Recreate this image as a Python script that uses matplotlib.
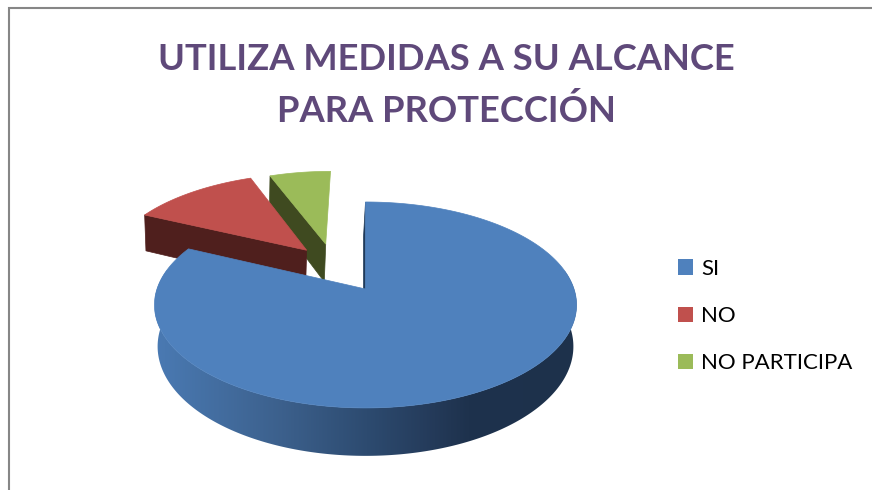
import numpy as np
import matplotlib
matplotlib.use("Agg")
import matplotlib.pyplot as plt
from matplotlib.colors import LinearSegmentedColormap
from matplotlib.patches import Patch, Polygon

plt.rcParams['font.family'] = ['Lato', 'DejaVu Sans']

# data
labels = ['SI', 'NO', 'NO PARTICIPA']
values = [82, 12, 6]
title = 'UTILIZA MEDIDAS A SU ALCANCE\nPARA PROTECCIÓN'

top_colors = ['#4F81BD', '#C0504D', '#9BBB59']
wall_colors = ['#1F3A5A', '#4F1F1D', '#3F4A20']
# offset of each slice on the pie plane, and its radius
offsets = [(0, 0), (-0.30, 0.41), (-0.205, 0.48)]
radii = [1.0, 0.99, 0.95]

# pseudo 3d camera, in pixels
cx, cy = 365.5, 289
rx, ry = 208.5, 100.5
persp = 0.155
depth = 40.5

blue_wall = LinearSegmentedColormap.from_list('blue_wall', [
    (0, '#4A7AB3'), (0.3, '#3C608C'), (0.5, '#2D4B70'),
    (0.66, '#243A59'), (0.74, '#1E324D'), (1, '#1D314B')])


def project(u, v, lower=False):
    w = 1 + persp * v
    x = cx + rx * u / w
    y = cy - ry * v / w
    if lower:
        x = cx + rx * u / w * 0.985
        y = y + depth / w
    return x, y


def draw_slice(ax, start, sweep, off, r, top, wall, zorder, gradient=None):
    # angles run clockwise from the top of the pie
    ang = np.radians(np.linspace(start, start + sweep, 400))
    u = off[0] + r * np.sin(ang)
    v = off[1] + r * np.cos(ang)
    x1, y1 = project(u, v)
    x2, y2 = project(u, v, lower=True)

    # outer wall, only the part turned to the viewer
    front = np.cos(ang) < 0.2
    if front.any():
        pts = list(zip(x1[front], y1[front])) + list(zip(x2[front][::-1], y2[front][::-1]))
        shape = Polygon(pts, facecolor='none', edgecolor='none', zorder=zorder)
        ax.add_patch(shape)
        if gradient is not None:
            ramp = np.linspace(0, 1, 512).reshape(1, -1)
            img = ax.imshow(ramp, cmap=gradient, extent=[155, 578, 470, 250], aspect='auto',
                            zorder=zorder, interpolation='bilinear')
            img.set_clip_path(shape)

    # cut face at the start of the slice, leans a bit to the left at the bottom
    vx1, vy1 = project(off[0], off[1])
    vx2, vy2 = project(off[0], off[1], lower=True)
    ax.add_patch(Polygon([(vx1, vy1), (x1[0], y1[0]), (x2[0] - 2, y2[0]), (vx2 - 2, vy2)],
                         facecolor=wall, edgecolor=wall, linewidth=0.5, zorder=zorder))

    # top face
    pts = [(vx1, vy1)] + list(zip(x1, y1))
    ax.add_patch(Polygon(pts, facecolor=top, edgecolor=top, linewidth=0.5, zorder=zorder + 0.5))


fig = plt.figure(figsize=(8.72, 4.9), dpi=100)
ax = fig.add_axes([0, 0, 1, 1])
ax.axis('off')

# chart frame, only left and top are in the picture
ax.plot([8.5, 8.5, 872], [490, 8.5, 8.5], color='#868686', lw=1.5, solid_joinstyle='miter')

sweeps = [360 * val / sum(values) for val in values]
starts = np.cumsum([0] + sweeps[:-1])

# back slices first so the big one covers them
for i in [2, 1, 0]:
    draw_slice(ax, starts[i], sweeps[i], offsets[i], radii[i], top_colors[i], wall_colors[i],
               zorder=2 + (2 - i), gradient=blue_wall if i == 0 else None)

ax.set_xlim(0, 872)
ax.set_ylim(490, 0)

ax.text(446.5, 85.5, title, ha='center', va='center', fontsize=26.2, fontweight='bold',
        color='#5F497A', linespacing=1.65)

handles = [Patch(facecolor=c, edgecolor='none') for c in top_colors]
ax.legend(handles, labels, loc='center left', bbox_to_anchor=(678 / 872, 1 - 316 / 490),
          frameon=False, fontsize=16, labelspacing=1.22, handlelength=0.68, handleheight=0.68,
          handletextpad=0.37, borderpad=0, borderaxespad=0, labelcolor='black')

fig.savefig('out.png', dpi=100)
